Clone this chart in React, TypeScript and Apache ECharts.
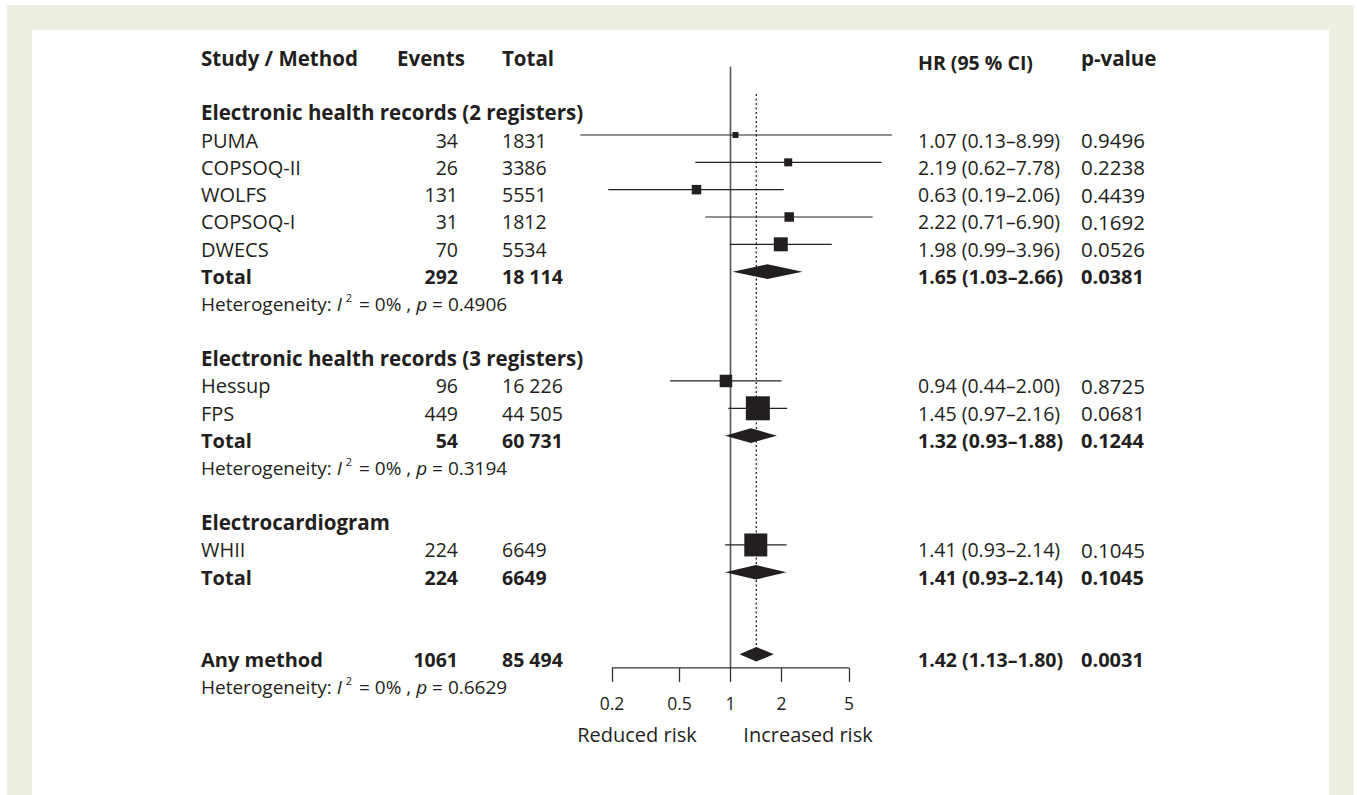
import React, { useEffect, useRef } from 'react';
import * as echarts from 'echarts';

// ---------- data ----------
const studyNames = ['PUMA', 'COPSOQ-II', 'WOLFS', 'COPSOQ-I', 'DWECS', 'Hessup', 'FPS', 'WHII'];
const studyRows = [0, 1, 2, 3, 4, 9, 10, 15];
const studyEvents = ['34', '26', '131', '31', '70', '96', '449', '224'];
const studyTotals = ['1831', '3386', '5551', '1812', '5534', '16 226', '44 505', '6649'];
const studyHR = [1.07, 2.19, 0.63, 2.22, 1.98, 0.94, 1.45, 1.41];
const studyLow = [0.13, 0.62, 0.19, 0.71, 0.99, 0.44, 0.97, 0.93];
const studyHigh = [8.99, 7.78, 2.06, 6.9, 3.96, 2.0, 2.16, 2.14];
const studyP = ['0.9496', '0.2238', '0.4439', '0.1692', '0.0526', '0.8725', '0.0681', '0.1045'];
const studyWeight = [6, 8, 9.5, 9.5, 14, 12.5, 24, 23];

const pooledNames = ['Total', 'Total', 'Total', 'Any method'];
const pooledRows = [5, 11, 16, 19];
const pooledEvents = ['292', '54', '224', '1061'];
const pooledTotals = ['18 114', '60 731', '6649', '85 494'];
const pooledHR = [1.65, 1.32, 1.41, 1.42];
const pooledLow = [1.03, 0.93, 0.93, 1.13];
const pooledHigh = [2.66, 1.88, 2.14, 1.8];
const pooledP = ['0.0381', '0.1244', '0.1045', '0.0031'];

const groupTitles = ['Electronic health records (2 registers)', 'Electronic health records (3 registers)', 'Electrocardiogram'];
const groupRows = [-1, 8, 14];
const hetP = ['0.4906', '0.3194', '0.6629'];
const hetRows = [6, 12, 20];
const headerRow = -3;

const tickValues = [0.2, 0.5, 1, 2, 5];
const tickLabels = ['0.2', '0.5', '1', '2', '5'];
const overallHR = 1.42;

// ---------- layout ----------
const FONT = 'Open Sans';
const INK = '#231f20';
const ROW_PX = 27.33;
const ROW0_Y = 135;
const Y_MIN = -4;
const Y_MAX = 19.5;
const X_MIN = -2.2;
const X_MAX = 2.4;
const X_PX = 73.6;
const X0 = 730.5;
const TEXT_DY = 5;

const COL_STUDY = 201;
const COL_EVENTS = 458;
const COL_TOTAL = 502;
const COL_HR = 918;
const COL_P = 1081;

type TextItem = { row: number; x: number; text: string; bold?: boolean; align?: string; dy?: number; het?: boolean; size?: number };

function fmt(v: number) {
  return v.toFixed(2);
}

const textItems: TextItem[] = [];
textItems.push({ row: headerRow, x: COL_STUDY, text: 'Study / Method', bold: true, size: 20.5 });
textItems.push({ row: headerRow, x: 397, text: 'Events', bold: true, size: 20.5 });
textItems.push({ row: headerRow, x: COL_TOTAL, text: 'Total', bold: true, size: 20.5 });
textItems.push({ row: headerRow, x: COL_HR, text: 'HR (95 % CI)', bold: true, dy: 4, size: 19.5 });
textItems.push({ row: headerRow, x: COL_P, text: 'p-value', bold: true, size: 20.5 });
groupTitles.forEach((t, i) => textItems.push({ row: groupRows[i], x: COL_STUDY, text: t, bold: true, size: 20.5, dy: -1 }));
studyNames.forEach((n, i) => {
  const r = studyRows[i];
  textItems.push({ row: r, x: COL_STUDY, text: n, size: 20 });
  textItems.push({ row: r, x: COL_EVENTS, text: studyEvents[i], align: 'right' });
  textItems.push({ row: r, x: COL_TOTAL, text: studyTotals[i] });
  textItems.push({ row: r, x: COL_HR, text: `${fmt(studyHR[i])} (${fmt(studyLow[i])}–${fmt(studyHigh[i])})` });
  textItems.push({ row: r, x: COL_P, text: studyP[i], size: 20.5 });
});
pooledNames.forEach((n, i) => {
  const r = pooledRows[i];
  textItems.push({ row: r, x: COL_STUDY, text: n, bold: true, size: 20 });
  textItems.push({ row: r, x: COL_EVENTS, text: pooledEvents[i], align: 'right', bold: true });
  textItems.push({ row: r, x: COL_TOTAL, text: pooledTotals[i], bold: true });
  textItems.push({ row: r, x: COL_HR, text: `${fmt(pooledHR[i])} (${fmt(pooledLow[i])}–${fmt(pooledHigh[i])})`, bold: true });
  textItems.push({ row: r, x: COL_P, text: pooledP[i], bold: true, size: 20 });
});
hetP.forEach((p, i) => {
  textItems.push({
    row: hetRows[i],
    x: COL_STUDY,
    text: `{n|Heterogeneity: }{i|I}{s|2}{n| = 0% , }{i|p}{n| = ${p}}`,
    het: true,
  });
});

const refLines = [
  // [x (ln HR), rowStart, rowEnd, dashed]
  [0, -2.5, 19.5, 0],
  [Math.log(overallHR), -1.5, 19, 1],
];

export default function App() {
  const ref = useRef<HTMLDivElement>(null);
  useEffect(() => {
    if (!ref.current) return;
    const chart = echarts.init(ref.current, undefined, { renderer: 'svg' });
    const gridTop = ROW0_Y + Y_MIN * ROW_PX;
    const gridHeight = (Y_MAX - Y_MIN) * ROW_PX;
    const gridLeft = X0 + X_MIN * X_PX;
    const gridWidth = (X_MAX - X_MIN) * X_PX;
    const tickLn = tickValues.map((v) => Math.log(v));

    const option: any = {
      animation: false,
      backgroundColor: '#ffffff',
      grid: { left: gridLeft, top: gridTop, width: gridWidth, height: gridHeight },
      xAxis: {
        type: 'value',
        position: 'bottom',
        min: X_MIN,
        max: X_MAX,
        axisLine: { show: false, onZero: false },
        splitLine: { show: false },
        axisTick: {
          show: true,
          customValues: tickLn,
          length: 14,
          inside: false,
          lineStyle: { color: '#333', width: 1.3 },
        },
        axisLabel: {
          customValues: tickLn,
          margin: 26,
          fontFamily: FONT,
          fontSize: 17.5,
          color: INK,
          formatter: (v: number) => {
            const idx = tickLn.findIndex((t) => Math.abs(t - v) < 1e-6);
            return idx >= 0 ? tickLabels[idx] : '';
          },
        },
      },
      yAxis: { type: 'value', inverse: true, min: Y_MIN, max: Y_MAX, show: false },
      graphic: [
        { type: 'rect', z: -10, shape: { x: 7, y: 5, width: 1347, height: 800 }, style: { fill: '#efeee3' } },
        { type: 'rect', z: -9, shape: { x: 32, y: 30, width: 1297, height: 780 }, style: { fill: '#ffffff' } },
        {
          type: 'text', x: 637, y: 734,
          style: { text: 'Reduced risk', fontFamily: FONT, fontSize: 20, fill: INK, align: 'center', verticalAlign: 'middle' },
        },
        {
          type: 'text', x: 808, y: 734,
          style: { text: 'Increased risk', fontFamily: FONT, fontSize: 20, fill: INK, align: 'center', verticalAlign: 'middle' },
        },
      ],
      series: [
        {
          type: 'custom',
          name: 'refLines',
          data: refLines,
          renderItem: (params: any, api: any) => {
            const x = api.value(0);
            const p1 = api.coord([x, api.value(1)]);
            const p2 = api.coord([x, api.value(2)]);
            const dashed = api.value(3) === 1;
            return {
              type: 'line',
              shape: { x1: p1[0], y1: p1[1], x2: p2[0], y2: p2[1] },
              style: dashed
                ? { stroke: '#222', lineWidth: 1.3, lineDash: [2, 2.5] }
                : { stroke: '#555', lineWidth: 1.6 },
            };
          },
        },
        {
          type: 'custom',
          name: 'axisLine',
          data: [[Math.log(tickValues[0]), Math.log(tickValues[tickValues.length - 1]), Y_MAX]],
          renderItem: (params: any, api: any) => {
            const p1 = api.coord([api.value(0), api.value(2)]);
            const p2 = api.coord([api.value(1), api.value(2)]);
            return {
              type: 'line',
              shape: { x1: p1[0], y1: p1[1], x2: p2[0], y2: p2[1] },
              style: { stroke: '#333', lineWidth: 1.3 },
            };
          },
        },
        {
          type: 'custom',
          name: 'studies',
          data: studyHR.map((hr, i) => [Math.log(hr), studyRows[i], Math.log(studyLow[i]), Math.log(studyHigh[i]), studyWeight[i]]),
          renderItem: (params: any, api: any) => {
            const c = api.coord([api.value(0), api.value(1)]);
            const lo = api.coord([api.value(2), api.value(1)]);
            const hi = api.coord([api.value(3), api.value(1)]);
            const s = api.value(4);
            return {
              type: 'group',
              children: [
                { type: 'line', shape: { x1: lo[0], y1: lo[1], x2: hi[0], y2: hi[1] }, style: { stroke: '#222', lineWidth: 1.2 } },
                { type: 'rect', shape: { x: c[0] - s / 2, y: c[1] - s / 2, width: s, height: s }, style: { fill: '#231f20' } },
              ],
            };
          },
        },
        {
          type: 'custom',
          name: 'pooled',
          data: pooledHR.map((hr, i) => [Math.log(hr), pooledRows[i], Math.log(pooledLow[i]), Math.log(pooledHigh[i])]),
          renderItem: (params: any, api: any) => {
            const c = api.coord([api.value(0), api.value(1)]);
            const lo = api.coord([api.value(2), api.value(1)]);
            const hi = api.coord([api.value(3), api.value(1)]);
            const h = 7.3;
            return {
              type: 'polygon',
              shape: { points: [[lo[0], c[1]], [c[0], c[1] - h], [hi[0], c[1]], [c[0], c[1] + h]] },
              style: { fill: '#231f20' },
            };
          },
        },
        {
          type: 'custom',
          name: 'table',
          data: textItems.map((t, i) => [0, t.row, i]),
          renderItem: (params: any, api: any) => {
            const t = textItems[api.value(2)];
            const y = api.coord([0, api.value(1)])[1] + TEXT_DY + (t.dy || 0);
            if (t.het) {
              return {
                type: 'text',
                x: t.x,
                y,
                style: {
                  text: t.text,
                  align: 'left',
                  verticalAlign: 'middle',
                  fontFamily: FONT,
                  fontSize: 19,
                  fill: INK,
                  rich: {
                    n: { fontFamily: FONT, fontSize: 19, fill: INK, lineHeight: 23 },
                    i: { fontFamily: FONT, fontSize: 19, fontStyle: 'italic', fill: INK, lineHeight: 23 },
                    s: { fontFamily: FONT, fontSize: 11, fill: INK, verticalAlign: 'top', lineHeight: 12, padding: [0, 2, 0, 4] },
                  },
                },
              };
            }
            return {
              type: 'text',
              x: t.x,
              y,
              style: {
                text: t.text,
                align: t.align || 'left',
                verticalAlign: 'middle',
                fontFamily: FONT,
                fontSize: t.size || 19.5,
                fontWeight: t.bold ? 'bold' : 'normal',
                fill: INK,
              },
            };
          },
        },
      ],
    };
    chart.setOption(option);
    return () => chart.dispose();
  }, []);
  return <div ref={ref} style={{ position: 'fixed', left: 0, top: 0, width: 1357, height: 795 }} />;
}
